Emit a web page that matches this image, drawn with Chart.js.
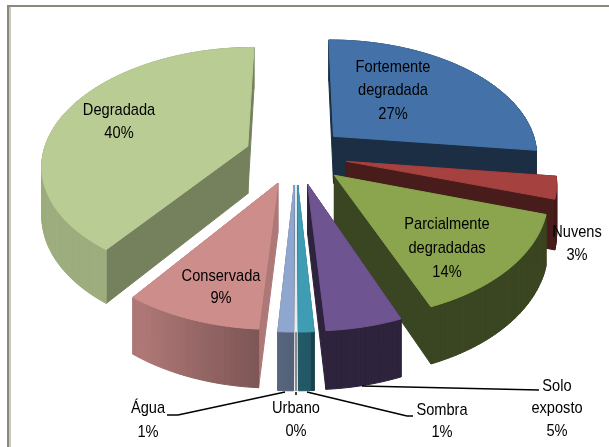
<!DOCTYPE html>
<html>
<head>
<meta charset="utf-8">
<title>Classes</title>
<script src="https://cdn.jsdelivr.net/npm/chart.js"></script>
<style>
  body { margin: 0; background: #fff; }
</style>
</head>
<body>
<canvas id="pie" width="609" height="447"></canvas>
<script>
// Values
const categories = ['Fortemente degradada', 'Nuvens', 'Parcialmente degradadas', 'Solo exposto', 'Sombra', 'Urbano', 'Água', 'Conservada', 'Degradada'];
const percents = [27, 3, 14, 5, 1, 0.05, 1, 9, 40];
const sliceColors = ['#4472a8', '#a5413f', '#8ba54e', '#6e5490', '#3e9cb3', '#e6eef2', '#8fa6cf', '#cc8d8b', '#b9cc94'];
const cutShade = [0.4, 0.43, 0.42, 0.42, 0.58, 0.95, 0.6, 0.85, 0.63];

// Where each label sits: centre x, y of first line, line gap
const labelSpots = [
  [393, 67, 23.5], [577, 232, 23], [447, 224, 24], [557, 386, 22.5], [442, 410, 22],
  [296, 408, 23], [148, 408, 24], [221, 276, 22], [119, 110, 23]
];
// Leader lines from outside labels to their slices, [x1, y1, x2, y2]
const leaders = [
  [362, 386, 539, 390], [307, 392, 407, 416], [407, 416, 413, 416],
  [296, 392, 296, 395], [285, 392, 178, 415], [178, 415, 167, 415]
];

// Projection of the tilted pie
const RX = 205, RY = 115.6, TILT = 0.147, DEPTH = 48, EXPLODE = 0.25;

function project(c, u, v, drop) {
  const w = 1 / (1 - TILT * v);
  return [c.x + RX * u * w, c.y + RY * v * w + (drop ? DEPTH * w : 0)];
}

function shadeColor(hex, f) {
  const n = parseInt(hex.slice(1), 16);
  const r = Math.round((n >> 16) * f), g = Math.round(((n >> 8) & 255) * f), b = Math.round((n & 255) * f);
  return 'rgb(' + r + ',' + g + ',' + b + ')';
}

function fillPoly(ctx, pts, color) {
  ctx.beginPath();
  pts.forEach((p, i) => i ? ctx.lineTo(p[0], p[1]) : ctx.moveTo(p[0], p[1]));
  ctx.closePath();
  ctx.fillStyle = color;
  ctx.strokeStyle = color;
  ctx.lineWidth = 1;
  ctx.fill();
  ctx.stroke();
}

function drawSlice(ctx, c, arc, i) {
  // chart.js angles start at 3 o'clock, here 0 is the top going clockwise
  const a0 = arc.startAngle + Math.PI / 2, a1 = arc.endAngle + Math.PI / 2;
  const mid = (a0 + a1) / 2;
  const ou = EXPLODE * Math.sin(mid), ov = -EXPLODE * Math.cos(mid);
  const rim = [];
  const steps = Math.max(2, Math.ceil((a1 - a0) / 0.02));
  for (let s = 0; s <= steps; s++) {
    const t = a0 + (a1 - a0) * s / steps;
    rim.push([ou + Math.sin(t), ov - Math.cos(t)]);
  }
  const apex = [ou, ov];
  const faces = [];
  const addFace = (p, q, shade) => faces.push({ p, q, shade, depth: (p[1] + q[1]) / 2 });
  addFace(apex, rim[0], cutShade[i]);
  addFace(apex, rim[steps], cutShade[i]);
  for (let s = 0; s < steps; s++) {
    const u = (rim[s][0] + rim[s + 1][0]) / 2 - ou;
    addFace(rim[s], rim[s + 1], u < 0.05 ? Math.min(0.85, 0.58 - 0.5 * u) : 0.42);
  }
  faces.sort((m, n) => m.depth - n.depth);
  faces.forEach(f => {
    fillPoly(ctx, [
      project(c, f.p[0], f.p[1]), project(c, f.q[0], f.q[1]),
      project(c, f.q[0], f.q[1], true), project(c, f.p[0], f.p[1], true)
    ], shadeColor(sliceColors[i], f.shade));
  });
  fillPoly(ctx, [apex].concat(rim).map(p => project(c, p[0], p[1])), sliceColors[i]);
}

const pie3d = {
  id: 'pie3d',
  beforeDraw(chart) {
    // frame of the pasted picture
    const ctx = chart.ctx;
    ctx.fillStyle = '#fff';
    ctx.fillRect(0, 0, 609, 447);
    ctx.fillStyle = '#8c887c';
    ctx.fillRect(7, 5, 602, 2);
    ctx.fillRect(7, 5, 2, 442);
    ctx.fillStyle = '#c9c7c0';
    ctx.fillRect(9, 7, 2, 440);
  },
  beforeDatasetsDraw(chart) {
    const ctx = chart.ctx;
    const arcs = chart.getDatasetMeta(0).data;
    const order = arcs.map((a, i) => i).sort((m, n) => {
      const bm = (arcs[m].startAngle + arcs[m].endAngle) / 2 + Math.PI / 2;
      const bn = (arcs[n].startAngle + arcs[n].endAngle) / 2 + Math.PI / 2;
      return Math.cos(bn) - Math.cos(bm);
    });
    order.forEach(i => drawSlice(ctx, arcs[i], arcs[i], i));
    return false;
  },
  afterDraw(chart) {
    const ctx = chart.ctx;
    ctx.strokeStyle = '#000';
    ctx.lineWidth = 1.5;
    leaders.forEach(l => {
      ctx.beginPath();
      ctx.moveTo(l[0], l[1]);
      ctx.lineTo(l[2], l[3]);
      ctx.stroke();
    });
    ctx.fillStyle = '#000';
    ctx.font = '17px "Liberation Sans"';
    ctx.textAlign = 'center';
    ctx.textBaseline = 'middle';
    categories.forEach((name, i) => {
      const lines = name.split(' ').concat(Math.round(percents[i]) + '%');
      const spot = labelSpots[i];
      lines.forEach((line, k) => {
        ctx.save();
        ctx.translate(spot[0], spot[1] + k * spot[2]);
        ctx.scale(0.86, 1);
        ctx.fillText(line, 0, 0);
        ctx.restore();
      });
    });
  }
};

new Chart(document.getElementById('pie'), {
  type: 'pie',
  data: {
    labels: categories,
    datasets: [{ data: percents, backgroundColor: sliceColors, borderWidth: 0 }]
  },
  options: {
    responsive: false,
    animation: false,
    layout: { padding: { left: 0, top: 0, right: 17, bottom: 137 } },
    plugins: { legend: { display: false }, tooltip: { enabled: false } }
  },
  plugins: [pie3d]
});
</script>
</body>
</html>
